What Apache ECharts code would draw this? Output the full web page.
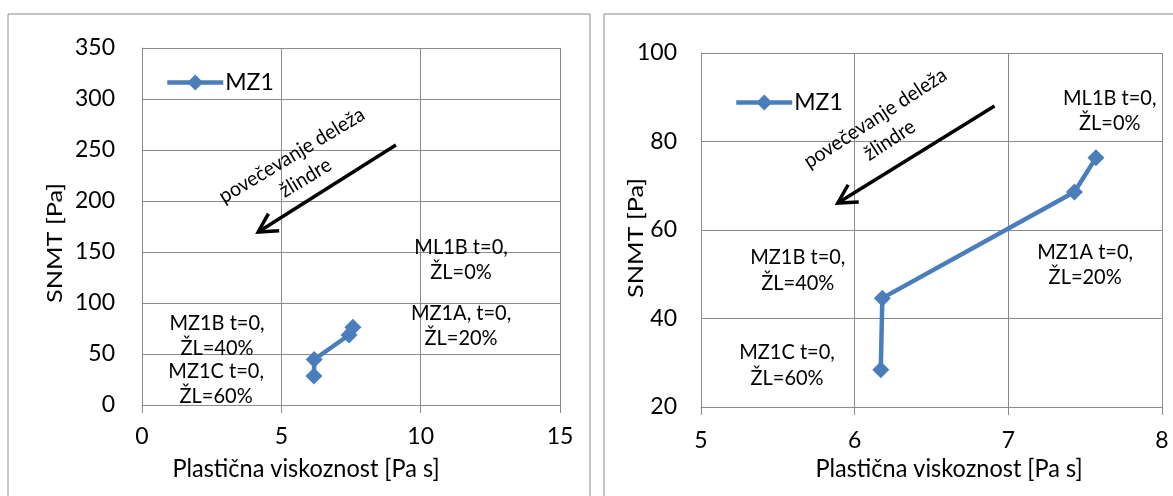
<!DOCTYPE html>
<html><head><meta charset="utf-8">
<script src="https://cdn.jsdelivr.net/npm/echarts@6/dist/echarts.min.js"></script>
<style>html,body{margin:0;padding:0;background:#fff}#c{width:1173px;height:496px}</style>
</head><body><div id="c"></div>
<script>
// ---- data ----
const seriesName = 'MZ1';
const viscosity = [6.17, 6.18, 7.43, 7.57];   // Plastična viskoznost [Pa s]
const snmt = [28.4, 44.6, 68.6, 76.3];        // SNMT [Pa]
const xTitle = 'Plastična viskoznost [Pa s]';
const yTitle = 'SNMT [Pa]';
const leftX = {min: 0, max: 15, interval: 5};
const leftY = {min: 0, max: 350, interval: 50};
const rightX = {min: 5, max: 8, interval: 1};
const rightY = {min: 20, max: 100, interval: 20};
const leftNotes = ['ML1B t=0,\nŽL=0%', 'MZ1A, t=0,\nŽL=20%', 'MZ1B t=0,\nŽL=40%', 'MZ1C t=0,\nŽL=60%'];
const rightNotes = ['ML1B t=0,\nŽL=0%', 'MZ1A t=0,\nŽL=20%', 'MZ1B t=0,\nŽL=40%', 'MZ1C t=0,\nŽL=60%'];
const arrowText = 'povečevanje deleža\nžlindre';
// annotation anchors (data coordinates)
const leftNotePos = [[11.45, 142.6], [11.45, 78], [2.69, 68], [2.66, 21]];
const rightNotePos = [[7.66, 87.1], [7.50, 52.3], [5.63, 51.0], [5.56, 29.5]];
const leftArrow = [[9.11, 255], [4.17, 169.6]];
const rightArrow = [[6.91, 88.0], [5.89, 66.1]];
const leftArrowTextPos = [5.62, 233.8];
const rightArrowTextPos = [6.18, 82.8];

const FONT = 'Lato, "Noto Sans", sans-serif';
const GRID = '#8a8a8a';
const BLUE = '#4a7ebb';
const pts = viscosity.map((v, i) => [v, snmt[i]]);

function xAxis(gi, r, margin) {
  return {type: 'value', gridIndex: gi, min: r.min, max: r.max, interval: r.interval,
    axisLine: {show: true, lineStyle: {color: GRID, width: 1}},
    axisTick: {show: true, length: 8, lineStyle: {color: GRID}},
    splitLine: {show: true, lineStyle: {color: GRID, width: 1}},
    axisLabel: {color: '#000', fontSize: 23, fontFamily: FONT, margin: margin}};
}
function yAxis(gi, r, margin) {
  return {type: 'value', gridIndex: gi, min: r.min, max: r.max, interval: r.interval,
    axisLine: {show: true, lineStyle: {color: GRID, width: 1}},
    axisTick: {show: false},
    splitLine: {show: true, lineStyle: {color: GRID, width: 1}},
    axisLabel: {color: '#000', fontSize: 23, fontFamily: FONT, margin: margin}};
}
function series(gi) {
  return {name: seriesName, type: 'line', xAxisIndex: gi, yAxisIndex: gi, data: pts,
    symbol: 'diamond', symbolSize: 17, showAllSymbol: true,
    lineStyle: {color: BLUE, width: 4.5}, itemStyle: {color: BLUE}, z: 5};
}
function legend(left, top) {
  return {show: true, data: [seriesName], left: left, top: top, orient: 'horizontal',
    itemWidth: 56, itemHeight: 20, itemGap: 4,
    lineStyle: {width: 4.5},
    textStyle: {fontSize: 23, fontFamily: FONT, color: '#000', padding: [0, 0, 0, -3]}};
}

const chart = echarts.init(document.getElementById('c'), null, {renderer: 'canvas'});
chart.setOption({
  backgroundColor: '#fff',
  animation: false,
  grid: [
    {left: 142, top: 48, width: 418, height: 357},
    {left: 701, top: 53, width: 461, height: 354}
  ],
  xAxis: [xAxis(0, leftX, 20), xAxis(1, rightX, 22)],
  yAxis: [yAxis(0, leftY, 27), yAxis(1, rightY, 24)],
  legend: [legend(160, 66), legend(729, 86)],
  series: [series(0), series(1)]
});

function txt(x, y, text, size, rot, sx, sy) {
  return {type: 'text', x: x, y: y, rotation: rot || 0, scaleX: sx || 1, scaleY: sy || 1,
    style: {text: text, fontSize: size, fontFamily: FONT, fill: '#000',
      align: 'center', verticalAlign: 'middle', lineHeight: 22}, z: 10};
}
function arrow(gi, a) {
  const p0 = chart.convertToPixel({gridIndex: gi}, a[0]);
  const p1 = chart.convertToPixel({gridIndex: gi}, a[1]);
  const ang = Math.atan2(p1[1] - p0[1], p1[0] - p0[0]);
  const L = 21, sp = 0.5;
  const h1 = [p1[0] - L * Math.cos(ang - sp), p1[1] - L * Math.sin(ang - sp)];
  const h2 = [p1[0] - L * Math.cos(ang + sp), p1[1] - L * Math.sin(ang + sp)];
  return [
    {type: 'polyline', shape: {points: [p0, p1]}, style: {stroke: '#000', lineWidth: 3.5}, z: 10},
    {type: 'polyline', shape: {points: [h1, p1, h2]}, style: {stroke: '#000', lineWidth: 3.5, fill: null, lineJoin: 'miter'}, z: 10}
  ];
}
function notes(gi, texts, pos) {
  return texts.map((t, i) => {
    const p = chart.convertToPixel({gridIndex: gi}, pos[i]);
    const e = txt(p[0], p[1], t, 20, 0, 1, 1.1);
    e.style.lineHeight = 23;
    return e;
  });
}
const g = [
  {type: 'rect', shape: {x: 8, y: 14, width: 582, height: 500}, style: {fill: null, stroke: '#8a8a8a', lineWidth: 1}, z: 0},
  {type: 'rect', shape: {x: 604, y: 14, width: 580, height: 500}, style: {fill: null, stroke: '#8a8a8a', lineWidth: 1}, z: 0},
  txt(306, 469, xTitle, 23.5, 0, 1, 1.1),
  txt(949, 469, xTitle, 23.5, 0, 1, 1.1),
  txt(55, 243, yTitle, 22, Math.PI / 2, 1.15, 1),
  txt(636, 238, yTitle, 22, Math.PI / 2, 1.15, 1)
];
g.push(...notes(0, leftNotes, leftNotePos));
g.push(...notes(1, rightNotes, rightNotePos));
g.push(...arrow(0, leftArrow));
g.push(...arrow(1, rightArrow));
const lt = chart.convertToPixel({gridIndex: 0}, leftArrowTextPos);
const rt = chart.convertToPixel({gridIndex: 1}, rightArrowTextPos);
const a1 = txt(lt[0], lt[1], arrowText, 19.5, 31 * Math.PI / 180, 1, 1.05);
const a2 = txt(rt[0], rt[1], arrowText, 19.5, 33 * Math.PI / 180, 1, 1.05);
a1.style.lineHeight = 25; a2.style.lineHeight = 25;
g.push(a1, a2);
chart.setOption({graphic: g});
</script></body></html>
